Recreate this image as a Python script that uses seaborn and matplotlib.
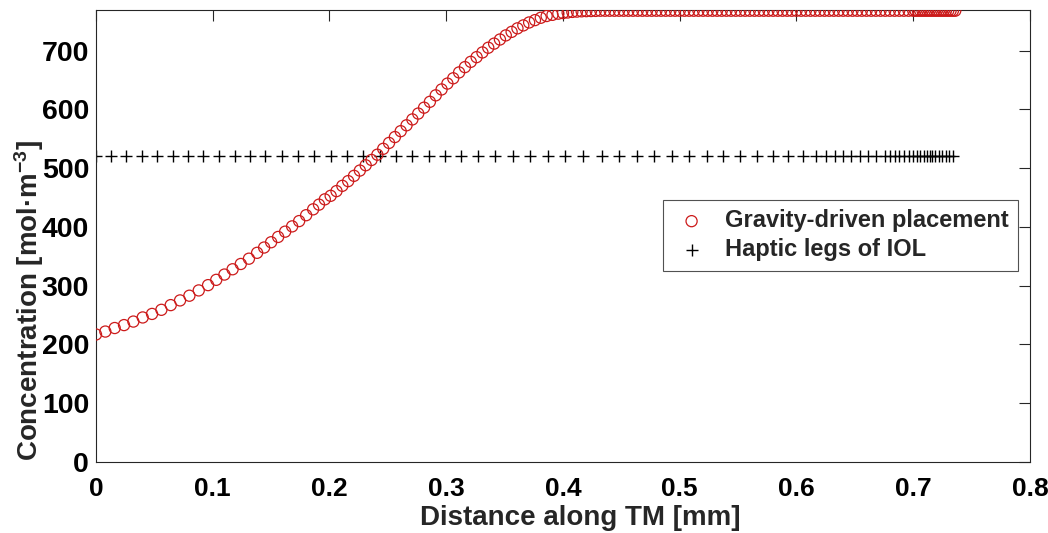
import matplotlib
matplotlib.use("Agg")
import matplotlib.pyplot as plt
import seaborn as sns
import pandas as pd

# circles: concentration along the TM, gravity-driven placement
grav_x = [
    0.000, 0.008, 0.016, 0.024, 0.032, 0.040, 0.048, 0.056, 0.064, 0.072,
    0.080, 0.088, 0.096, 0.103, 0.110, 0.117, 0.124, 0.131, 0.138, 0.144,
    0.150, 0.156, 0.162, 0.168, 0.174, 0.180, 0.186, 0.191, 0.196,
    0.201, 0.206, 0.211, 0.216, 0.221, 0.226, 0.231, 0.236, 0.241, 0.246,
    0.251, 0.256, 0.261, 0.266, 0.271, 0.276, 0.281, 0.286, 0.291, 0.296,
    0.301, 0.306, 0.311, 0.316, 0.321, 0.326, 0.331, 0.336, 0.341, 0.346,
    0.351, 0.356, 0.361, 0.366, 0.371, 0.376, 0.381, 0.386, 0.391, 0.396,
    0.400, 0.404, 0.408, 0.412, 0.416, 0.420, 0.424, 0.428, 0.432, 0.436,
    0.440, 0.444, 0.448, 0.452, 0.456, 0.460, 0.464, 0.468, 0.472, 0.476,
    0.480, 0.484, 0.488, 0.492, 0.496, 0.500, 0.504, 0.508, 0.512, 0.516,
    0.520, 0.524, 0.528, 0.532, 0.536, 0.540, 0.544, 0.548, 0.552, 0.556,
    0.560, 0.564, 0.568, 0.572, 0.576, 0.580, 0.584, 0.588, 0.592, 0.596,
    0.600, 0.604, 0.608, 0.612, 0.616, 0.620, 0.624, 0.628, 0.632, 0.636,
    0.640, 0.644, 0.648, 0.652, 0.656, 0.660, 0.664, 0.668, 0.672, 0.676,
    0.680, 0.684, 0.688, 0.692, 0.696, 0.700, 0.702, 0.704, 0.706, 0.708,
    0.710, 0.712, 0.714, 0.716, 0.718, 0.720, 0.722, 0.724, 0.726, 0.728,
    0.730, 0.732, 0.734, 0.736,
]
grav_y = [
    217, 222, 228, 233, 239, 246, 252, 259, 267, 275,
    283, 292, 301, 310, 319, 328, 337, 346, 356, 365,
    374, 383, 392, 401, 410, 420, 430, 438, 447,
    453, 461, 470, 478, 487, 496, 505, 514, 523, 533,
    543, 553, 563, 573, 583, 593, 603, 613, 624, 634,
    644, 653, 663, 672, 681, 689, 697, 705, 712, 719,
    726, 732, 738, 743, 748, 752, 756, 759, 761, 763,
    764, 765, 766, 766.5, 767, 767.3, 767.5, 767.7, 768, 768,
    768, 768, 768, 768, 768, 768, 768, 768, 768, 768,
    768, 768, 768, 768, 768, 768, 768, 768, 768, 768,
    768, 768, 768, 768, 768, 768, 768, 768, 768, 768,
    768, 768, 768, 768, 768, 768, 768, 768, 768, 768,
    768, 768, 768, 768, 768, 768, 768, 768, 768, 768,
    768, 768, 768, 768, 768, 768, 768, 768, 768, 768,
    768, 768, 768, 768, 768, 768, 768, 768, 768, 768,
    768, 768, 768, 768, 768, 768, 768, 768, 768, 768,
    768, 768, 768, 768,
]

# pluses: haptic legs of IOL (flat profile)
haptic_x = [
    0.000, 0.013, 0.026, 0.039, 0.052, 0.066, 0.079, 0.092, 0.105, 0.119,
    0.132, 0.145, 0.159, 0.173, 0.187, 0.201, 0.215, 0.229, 0.243, 0.257,
    0.271, 0.285, 0.299, 0.313, 0.327, 0.342, 0.357, 0.372, 0.387, 0.402,
    0.417, 0.433, 0.448, 0.463, 0.478, 0.493, 0.508, 0.523, 0.537, 0.552,
    0.566, 0.580, 0.593, 0.606, 0.617, 0.625, 0.633, 0.640, 0.647, 0.654,
    0.661, 0.668, 0.676, 0.680, 0.684, 0.688, 0.692, 0.696, 0.700, 0.703,
    0.706, 0.709, 0.712, 0.714, 0.716, 0.719, 0.722, 0.725, 0.728, 0.731,
    0.734,
]
haptic_y = [520] * len(haptic_x)

x_ticks = [0, 0.1, 0.2, 0.3, 0.4, 0.5, 0.6, 0.7, 0.8]
y_ticks = [0, 100, 200, 300, 400, 500, 600, 700]

grav = pd.DataFrame({"x": grav_x, "y": grav_y})
haptic = pd.DataFrame({"x": haptic_x, "y": haptic_y})

sns.set_style("white")
plt.rcParams["font.family"] = ["Liberation Sans", "DejaVu Sans"]
plt.rcParams["font.weight"] = "bold"
plt.rcParams["mathtext.fontset"] = "custom"
plt.rcParams["mathtext.rm"] = "Liberation Sans:bold"
plt.rcParams["mathtext.default"] = "rm"

fig = plt.figure(figsize=(10.48, 5.33), dpi=100)
ax = fig.add_axes([0.0916, 0.1332, 0.8912, 0.8478])

sns.scatterplot(data=grav, x="x", y="y", ax=ax, marker="o", s=64,
                facecolors="none", edgecolor="#cc1a1a", linewidth=0.9,
                label="Gravity-driven placement", zorder=3)
sns.scatterplot(data=haptic, x="x", y="y", ax=ax, marker="+", s=75,
                color="black", linewidth=1.0,
                label="Haptic legs of IOL", zorder=2)

ax.set_xlim(0, 0.8)
ax.set_ylim(0, 769)
ax.set_xticks(x_ticks)
ax.set_xticklabels([f"{t:g}" for t in x_ticks])
ax.set_yticks(y_ticks)
ax.tick_params(direction="in", length=8, width=0.8, top=True, right=True,
               colors="#262626")
ax.tick_params(axis="x", labelsize=19, pad=11)
ax.tick_params(axis="y", labelsize=20.5, pad=5)
for lab in ax.get_xticklabels() + ax.get_yticklabels():
    lab.set_color("black")
    lab.set_fontweight("bold")
for sp in ax.spines.values():
    sp.set_color("#262626")
    sp.set_linewidth(0.8)

ax.set_xlabel("Distance along TM [mm]", fontsize=20, fontweight="bold")
ax.xaxis.set_label_coords(0.518, -0.095)
ax.set_ylabel("Concentration [mol\u00b7m$^{-3}$]", fontsize=20, fontweight="bold")
ax.yaxis.set_label_coords(-0.054, 0.358)

leg = ax.legend(loc="upper right", bbox_to_anchor=(0.987, 0.58), fontsize=17,
                frameon=True, fancybox=False, edgecolor="#262626",
                borderpad=0.4, handletextpad=0.6, labelspacing=0.25,
                handlelength=1.6, borderaxespad=0)
leg.get_frame().set_linewidth(0.8)
for t in leg.get_texts():
    t.set_fontweight("bold")

fig.savefig("out.png", dpi=100)
